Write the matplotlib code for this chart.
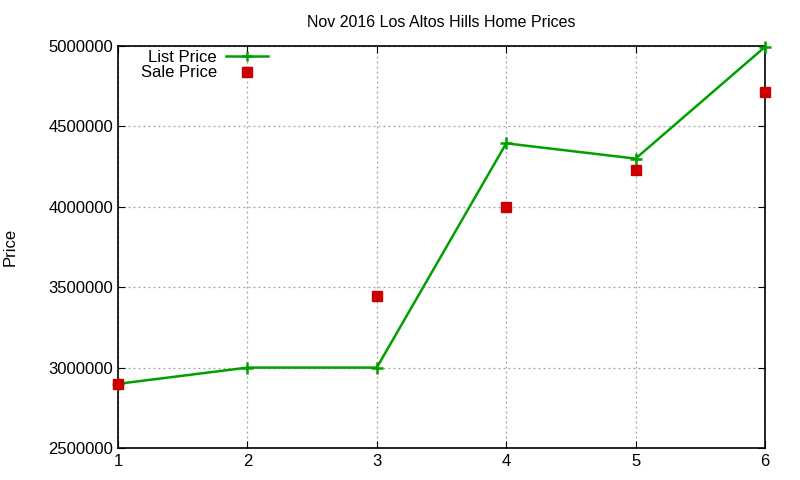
import matplotlib
matplotlib.use("Agg")
import matplotlib.pyplot as plt

plt.rcParams['font.family'] = ['Liberation Sans', 'DejaVu Sans']

months = [1, 2, 3, 4, 5, 6]
list_price = [2899000, 3000000, 3000000, 4395000, 4300000, 4995000]
sale_price = [2898000, 4838000, 3445000, 4000000, 4229000, 4714000]

fig = plt.figure(figsize=(8, 4.8), dpi=100)
ax = fig.add_axes([0.1475, 0.0667, 0.80875, 0.8373])

ax.plot(months, list_price, color='#00a000', linewidth=1.8, marker='+',
        markersize=8, markeredgewidth=1.8, label='List Price', clip_on=False, zorder=3)
ax.plot(months, sale_price, color='#cc0000', linestyle='none', marker='s',
        markersize=6.5, label='Sale Price', clip_on=False, zorder=4)

ax.set_xlim(1, 6)
ax.set_ylim(2500000, 5000000)
ax.set_xticks(months)
ax.set_yticks(range(2500000, 5000001, 500000))
ax.ticklabel_format(style='plain', axis='y', useOffset=False)
ax.tick_params(direction='in', top=True, right=True, labelsize=12, length=5)
ax.tick_params(axis='x', pad=4)
ax.grid(True, color='#a0a0a0', linestyle=(0, (1.5, 2.5)), linewidth=0.9)
for sp in ax.spines.values():
    sp.set_linewidth(1.2)

ax.set_title('Nov 2016 Los Altos Hills Home Prices', fontsize=11.5, pad=14)
ax.set_ylabel('Price', fontsize=12, labelpad=22)

ax.legend(loc='upper left', bbox_to_anchor=(0.017, 1.02), frameon=False, markerfirst=False,
          fontsize=12, handlelength=2.5, labelspacing=0.0, borderaxespad=0.3,
          handletextpad=0.55, markerscale=0.85)

fig.savefig('out.png', dpi=100)
